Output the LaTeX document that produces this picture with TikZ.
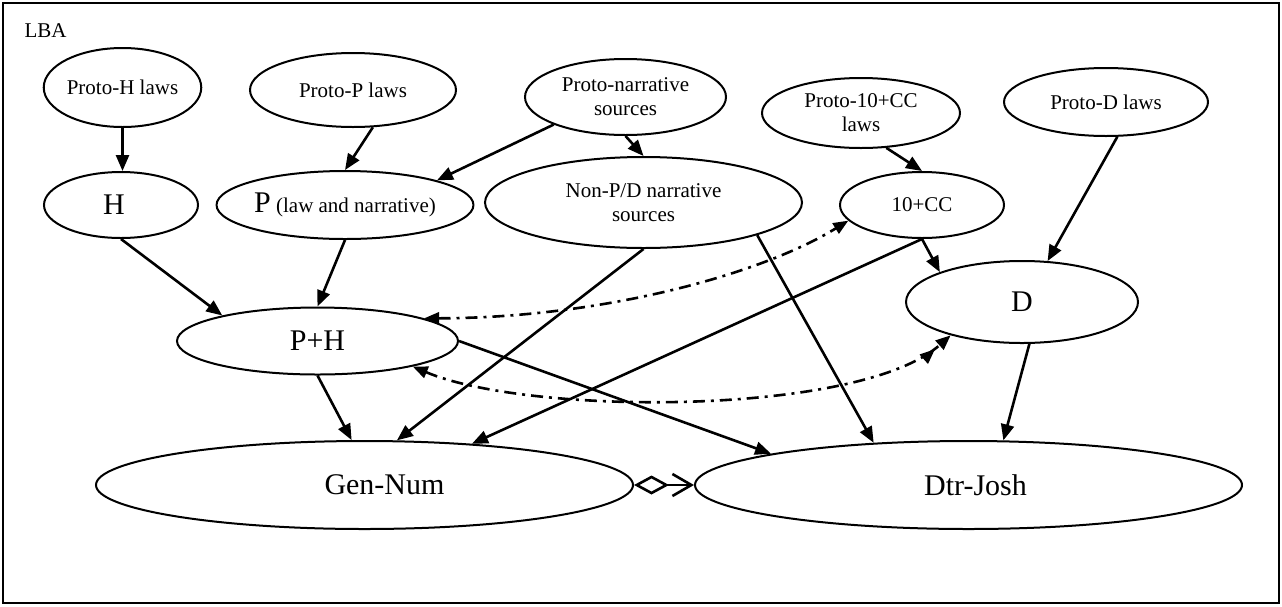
\documentclass[tikz,border=0pt]{standalone}
\usepackage{fontspec}
\setmainfont{Liberation Serif}
\usetikzlibrary{shapes.geometric, arrows.meta}

\newcommand{\bigfont}{\fontsize{30}{34}\selectfont}

\tikzset{
  src/.style={ellipse, draw, line width=2pt, inner sep=0pt, align=center,
    font=\fontsize{21}{24}\selectfont},
  big/.style={src, font=\bigfont},
  arrow/.style={-{Triangle[length=16pt, width=13pt]}, line width=2.6pt},
  link/.style={line width=2.6pt, dash pattern=on 12pt off 6pt on 3pt off 6pt},
}

\begin{document}
\begin{tikzpicture}[x=1pt, y=-1pt]
  \useasboundingbox (0,0) rectangle (1282,606);
  \draw[line width=1.3pt] (3,3) rectangle (1279,603);
  \node[anchor=west, font=\fontsize{21}{24}\selectfont] (lba) at (21,31) {LBA};

  % Top row: proto sources
  \node[src, minimum width=156pt, minimum height=79pt] (ph) at (122.5,87.5) {Proto-H laws};
  \node[src, minimum width=206pt, minimum height=74pt] (pp) at (353,90) {Proto-P laws};
  \node[src, minimum width=201pt, minimum height=76pt] (pn) at (625.5,97) {Proto-narrative\\sources};
  \node[src, minimum width=198pt, minimum height=70pt] (pc) at (861,113) {Proto-10+CC\\laws};
  \node[src, minimum width=204pt, minimum height=68pt] (pd) at (1106,102) {Proto-D laws};

  % Second row: sources
  \node[big, minimum width=154pt, minimum height=66pt] (h) at (121,205) {H\hspace{14pt}};
  \node[src, minimum width=256pt, minimum height=68pt] (p) at (345,205) {{\bigfont P} (law and narrative)};
  \node[src, minimum width=317pt, minimum height=91pt] (np) at (643.5,202.5) {Non-P/D narrative\\sources};
  \node[src, minimum width=164pt, minimum height=66pt] (cc) at (922,205) {10+CC};

  % Combined sources
  \node[big, minimum width=281pt, minimum height=67pt] (phh) at (317.5,341) {P+H};
  \node[big, minimum width=232pt, minimum height=82pt] (d) at (1022,302) {D};

  % Bottom row: final works
  \node[big, minimum width=537pt, minimum height=88pt] (gn) at (364.5,485) {\hspace{40pt}Gen-Num};
  \node[big, minimum width=547pt, minimum height=88pt] (dj) at (968.5,485) {\hspace{14pt}Dtr-Josh};

  % Proto sources -> sources
  \draw[arrow] (ph.south) -- (ph.south |- h.north);
  \draw[arrow] (pp.-62) -- (p.north);
  \draw[arrow] (pn.201) -- (p.15);
  \draw[arrow] (pn.south) -- (np.north);
  \draw[arrow] (pc.-54) -- (cc.north);
  \draw[arrow] (pd.-72) -- (d.58);

  % Sources -> combined and final works
  \draw[arrow] (h.south) -- (phh.165);
  \draw[arrow] (p.south) -- (phh.north);
  \draw[arrow] (np.south) -- (gn.54);
  \draw[arrow] (np.-16) -- (dj.156);
  \draw[arrow] (cc.south) -- (d.160);
  \draw[arrow] (cc.south) -- (gn.21);
  \draw[arrow] (d.-80) -- (dj.52);
  \draw[arrow] (phh.south) -- (gn.106);
  \draw[arrow] (phh.east) -- (dj.171);

  % Dash-dotted links
  \draw[link, {Triangle[length=15pt, width=12pt]}-{Triangle[length=15pt, width=12pt]}]
    (phh.12) .. controls (600,318) and (760,275) .. (cc.192);
  \draw[link, {Triangle[length=15pt, width=12pt]}-{Triangle[length=15pt, width=12pt, sep=6pt]Triangle[length=15pt, width=12pt]}]
    (phh.-15) .. controls (530,416) and (860,416) .. (d.205);

  % Gen-Num <> Dtr-Josh
  \draw[line width=2.6pt, {Diamond[open, length=35pt, width=19pt]}-{Straight Barb[length=19pt, width=22pt]}]
    (gn.east) -- (dj.west);
\end{tikzpicture}
\end{document}
